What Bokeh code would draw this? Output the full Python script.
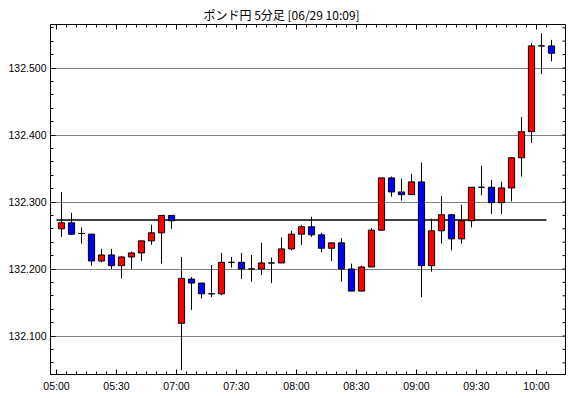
from bokeh.plotting import figure
from bokeh.models import (Range1d, LinearAxis, FixedTicker, ColumnDataSource,
                          NumeralTickFormatter, Grid)
from bokeh.embed import file_html
from bokeh.resources import INLINE
import numpy as np

title_text = "ポンド円 5分足 [06/29 10:09]"

times = ["05:00", "05:05", "05:10", "05:15", "05:20", "05:25", "05:30", "05:35",
         "05:40", "05:45", "05:50", "05:55",
         "07:00", "07:05", "07:10", "07:15", "07:20", "07:25", "07:30", "07:35",
         "07:40", "07:45", "07:50", "07:55", "08:00", "08:05", "08:10", "08:15",
         "08:20", "08:25", "08:30", "08:35", "08:40", "08:45", "08:50", "08:55",
         "09:00", "09:05", "09:10", "09:15", "09:20", "09:25", "09:30", "09:35",
         "09:40", "09:45", "09:50", "09:55", "10:00", "10:05"]

opens = [132.260, 132.269, 132.253, 132.252, 132.212, 132.221, 132.205, 132.218,
         132.224, 132.242, 132.254, 132.280,
         132.119, 132.185, 132.179, 132.163, 132.163, 132.210, 132.210, 132.200,
         132.200, 132.209, 132.209, 132.230, 132.252, 132.263, 132.251, 132.231,
         132.239, 132.200, 132.167, 132.203, 132.258, 132.336, 132.315, 132.311,
         132.330, 132.205, 132.257, 132.281, 132.245, 132.272, 132.322, 132.322,
         132.299, 132.321, 132.366, 132.405, 132.533, 132.533]
highs = [132.315, 132.284, 132.262, 132.252, 132.230, 132.230, 132.219, 132.226,
         132.242, 132.266, 132.280, 132.280,
         132.218, 132.188, 132.179, 132.206, 132.224, 132.218, 132.224, 132.221,
         132.239, 132.217, 132.247, 132.257, 132.266, 132.278, 132.254, 132.239,
         132.246, 132.208, 132.205, 132.261, 132.336, 132.338, 132.335, 132.342,
         132.359, 132.275, 132.309, 132.282, 132.296, 132.322, 132.354, 132.333,
         132.330, 132.367, 132.427, 132.537, 132.552, 132.542]
lows = [132.248, 132.251, 132.238, 132.205, 132.210, 132.200, 132.186, 132.200,
        132.212, 132.236, 132.208, 132.260,
        132.049, 132.139, 132.156, 132.158, 132.161, 132.202, 132.185, 132.181,
        132.191, 132.179, 132.209, 132.228, 132.236, 132.248, 132.225, 132.212,
        132.181, 132.167, 132.167, 132.203, 132.258, 132.308, 132.302, 132.311,
        132.158, 132.196, 132.238, 132.228, 132.238, 132.262, 132.310, 132.282,
        132.282, 132.301, 132.338, 132.388, 132.491, 132.510]
closes = [132.269, 132.252, 132.253, 132.212, 132.221, 132.205, 132.218, 132.224,
          132.242, 132.254, 132.280, 132.272,
          132.186, 132.179, 132.163, 132.163, 132.210, 132.210, 132.200, 132.200,
          132.209, 132.209, 132.230, 132.252, 132.263, 132.251, 132.231, 132.239,
          132.200, 132.167, 132.203, 132.258, 132.336, 132.315, 132.311, 132.330,
          132.205, 132.257, 132.281, 132.245, 132.272, 132.322, 132.322, 132.299,
          132.321, 132.366, 132.405, 132.533, 132.533, 132.522]

ref_price = 132.273
y_ticks = [132.1, 132.2, 132.3, 132.4, 132.5]

UP = "#FF0000"
DOWN = "#0000FF"

n = len(times)
idx = list(range(n))
xs = [i + 0.5 for i in idx]
colors = [UP if c > o else (DOWN if c < o else "#000000") for o, c in zip(opens, closes)]
src = ColumnDataSource(dict(x=xs, o=opens, h=highs, l=lows, c=closes, color=colors))

x_range = Range1d(-0.6, 50.9)
y_range = Range1d(132.04254, 132.56493)

p = figure(width=570, height=398, x_range=x_range, y_range=y_range,
           output_backend="svg", toolbar_location=None,
           x_axis_type=None, y_axis_type=None,
           min_border_left=50, min_border_right=5, min_border_top=24, min_border_bottom=24,
           title=title_text)
p.background_fill_color = "white"
p.border_fill_color = "white"
p.outline_line_color = "black"
p.outline_line_width = 1

p.title.align = "left"
p.title.offset = 153
p.title.text_font = "Noto Sans CJK JP"
p.title.text_font_size = "12px"
p.title.text_font_style = "normal"
p.title.text_color = "black"
p.title.standoff = 3

major_x = [i for i, t in enumerate(times) if t.endswith(":00") or t.endswith(":30")]
x_ticker = FixedTicker(ticks=major_x, minor_ticks=idx)
y_minor = list(np.round(np.arange(132.04, 132.561, 0.02), 3))
y_ticker = FixedTicker(ticks=y_ticks, minor_ticks=y_minor)

LABEL_FONT = "Liberation Sans"
LABEL_SIZE = "10.5px"


def style_axis(ax):
    ax.axis_line_color = "black"
    ax.major_tick_line_color = "black"
    ax.minor_tick_line_color = "black"
    ax.major_tick_in = 5
    ax.major_tick_out = 0
    ax.minor_tick_in = 3
    ax.minor_tick_out = 0
    ax.major_label_text_font = LABEL_FONT
    ax.major_label_text_font_size = LABEL_SIZE
    ax.major_label_text_color = "black"


xb = LinearAxis(ticker=x_ticker, major_label_overrides={i: times[i] for i in major_x})
style_axis(xb)
xb.major_label_standoff = 5
p.add_layout(xb, "below")

yl = LinearAxis(ticker=y_ticker, formatter=NumeralTickFormatter(format="0.000"))
style_axis(yl)
yl.major_label_standoff = 4
p.add_layout(yl, "left")

# inner tick marks along the top and right edges of the frame
p.ray(x=major_x, y=y_range.end, length=5, length_units="screen", angle=-np.pi / 2,
      line_color="black", line_width=1)
p.ray(x=idx, y=y_range.end, length=3, length_units="screen", angle=-np.pi / 2,
      line_color="black", line_width=1)
p.ray(x=x_range.end, y=y_minor, length=3, length_units="screen", angle=np.pi,
      line_color="black", line_width=1)

p.add_layout(Grid(dimension=1, ticker=y_ticker, grid_line_color="black",
                  grid_line_dash="1 1", grid_line_width=1))

p.line(x=[idx[0], idx[-1]], y=[ref_price, ref_price], line_color="black", line_width=1.5)

p.segment(x0="x", y0="h", x1="x", y1="l", source=src, line_color="black", line_width=1)
p.vbar(x="x", width=0.62, top="o", bottom="c", source=src,
       fill_color="color", line_color="black", line_width=1)

open("out.html", "w").write(file_html(p, INLINE))
